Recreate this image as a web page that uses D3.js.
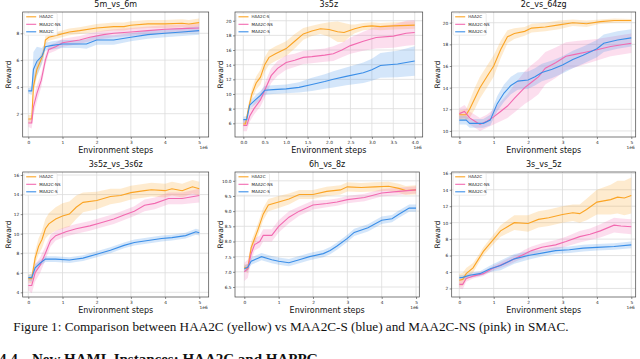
<!DOCTYPE html>
<html>
<head>
<meta charset="utf-8">
<script src="https://cdn.jsdelivr.net/npm/d3@7"></script>
<style>
  body { margin: 0; background: #fff; }
  svg { display: block; }
</style>
</head>
<body>
<svg id="fig" width="640" height="359"></svg>
<script>
// each point: [env steps (1e6), mean reward, half width of shaded band]
const m5v6Haa2c = [[0,1.6,0.3],[0.1,1.6,0.3],[0.15,4.0,0.6],[0.25,5.3,0.5],[0.4,6.2,0.4],[0.45,6.6,0.4],[0.5,7.5,0.3],[0.6,7.7,0.25],[0.9,7.9,0.25],[1.2,8.1,0.25],[1.5,8.2,0.25],[2.0,8.4,0.3],[2.5,8.5,0.3],[2.8,8.5,0.3],[3.0,8.6,0.3],[3.5,8.7,0.3],[4.0,8.7,0.3],[4.5,8.75,0.3],[4.7,8.7,0.3],[5.0,8.8,0.3]];
const m5v6Ns = [[0,1.3,0.3],[0.1,1.3,0.4],[0.15,2.5,0.6],[0.25,3.5,0.6],[0.38,4.5,0.5],[0.5,6.0,0.4],[0.6,6.8,0.3],[0.8,7.0,0.3],[1.0,7.3,0.3],[1.5,7.5,0.3],[1.8,7.7,0.3],[2.2,7.9,0.3],[2.5,8.0,0.3],[3.0,8.1,0.3],[3.5,8.2,0.3],[4.0,8.3,0.3],[4.5,8.35,0.3],[5.0,8.4,0.3]];
const m5v6S = [[0,3.7,0.2],[0.1,3.7,0.3],[0.15,5.3,1.3],[0.25,5.9,1.1],[0.4,6.3,0.6],[0.5,7.0,0.3],[0.7,7.1,0.3],[1.0,7.2,0.3],[1.5,7.2,0.3],[1.7,7.2,0.35],[2.0,7.5,0.35],[2.5,7.5,0.35],[3.0,7.7,0.3],[3.5,7.9,0.3],[4.0,8.0,0.3],[4.5,8.1,0.3],[5.0,8.2,0.3]];

const s3z5Haa2c = [[0,5.9,0.3],[0.05,5.9,0.3],[0.12,8,0.6],[0.2,10,0.8],[0.3,11.5,0.9],[0.4,12.3,1],[0.5,14,1],[0.6,15,1],[0.75,15.5,1],[1.0,16.2,1],[1.2,17.2,1],[1.4,18.2,0.8],[1.6,18.6,0.7],[1.8,18.9,0.7],[2.0,18.8,1.0],[2.2,18.5,1.4],[2.35,18.4,1.3],[2.5,18.7,0.8],[2.6,18.9,0.6],[2.8,19.2,0.5],[3.0,19.3,0.5],[3.2,19.2,0.5],[3.5,19.3,0.5],[4.0,19.4,0.5]];
const s3z5Ns = [[0,5.7,0.8],[0.08,5.7,0.8],[0.15,7,0.8],[0.25,8,0.8],[0.4,9.2,0.9],[0.5,10.5,1],[0.65,12.5,1],[0.8,13.5,1],[1.0,14.3,1],[1.2,14.6,0.9],[1.4,15.0,0.9],[1.6,15.1,0.9],[1.9,15.3,0.9],[2.1,15.5,1],[2.3,16.0,1],[2.5,16.6,1.1],[2.8,17.2,1.3],[3.1,17.7,1.5],[3.5,17.9,1.6],[3.8,18.3,1.7],[4.0,18.4,1.7]];
const s3z5S = [[0,6.5,0.4],[0.08,6.5,0.5],[0.15,8.5,0.5],[0.3,9.3,0.6],[0.4,9.8,0.6],[0.5,10.5,0.6],[0.7,10.6,0.6],[1.0,10.7,0.6],[1.3,10.9,0.7],[1.6,11.3,0.9],[1.9,11.7,1.0],[2.1,12.0,1.1],[2.4,12.4,1.2],[2.8,12.9,1.4],[3.0,13.3,1.5],[3.2,13.9,1.7],[3.6,14.1,1.8],[3.8,14.3,1.9],[4.0,14.5,2.0]];

const c2v64Haa2c = [[0,11.5,0.4],[0.2,11.5,0.5],[0.3,12,0.8],[0.45,13,1],[0.6,14,1],[0.8,15,1],[1.0,16,1],[1.2,17.5,0.8],[1.4,18.7,0.6],[1.6,19.0,0.5],[1.9,19.2,0.4],[2.1,19.5,0.4],[2.5,19.6,0.4],[2.9,19.8,0.4],[3.3,20.0,0.3],[3.7,19.9,0.3],[4.1,20.1,0.2],[4.5,20.2,0.2],[5.0,20.2,0.15]];
const c2v64Ns = [[0,11.6,0.5],[0.15,11.8,0.6],[0.3,11.2,0.6],[0.5,10.8,0.6],[0.6,10.6,0.6],[0.8,10.9,0.6],[1.0,11.3,0.7],[1.2,11.8,0.9],[1.4,12.3,1.1],[1.6,13.0,1.3],[1.9,14.0,1.5],[2.1,14.5,1.6],[2.3,15.0,1.6],[2.5,15.8,1.5],[2.8,16.3,1.4],[3.1,16.9,1.3],[3.4,17.1,1.2],[3.7,17.3,1.1],[4.0,17.5,1.0],[4.4,17.8,0.9],[5.0,18.1,0.9]];
const c2v64S = [[0,11.0,0.4],[0.2,11.0,0.4],[0.3,10.7,0.4],[0.7,10.7,0.4],[0.9,11.0,0.5],[1.1,12.5,0.7],[1.3,13.5,0.8],[1.5,14.2,0.8],[1.7,14.6,0.8],[2.0,14.7,0.8],[2.2,15.0,0.8],[2.4,15.4,0.8],[2.7,15.7,0.8],[3.0,16.1,0.8],[3.3,16.6,0.8],[3.6,17.0,0.8],[4.0,17.6,0.8],[4.2,18.1,0.8],[4.6,18.4,0.8],[5.0,18.6,0.8]];

const s3z5v6Haa2c = [[0,5.4,0.4],[0.1,5.4,0.5],[0.2,7.5,0.7],[0.3,8.7,0.8],[0.4,9.4,0.9],[0.5,10.5,1],[0.6,11.0,1.1],[0.8,11.5,1.2],[1.0,11.8,1.3],[1.2,12.0,1.3],[1.4,12.7,1.2],[1.6,13.2,1.0],[2.0,13.4,0.9],[2.4,13.8,0.8],[2.7,13.9,0.7],[3.0,14.2,0.7],[3.4,14.4,0.7],[3.6,14.5,0.7],[4.0,14.4,0.7],[4.2,14.6,0.7],[4.5,14.4,0.7],[4.8,14.8,0.7],[5.0,14.6,0.7]];
const s3z5v6Ns = [[0,4.7,0.5],[0.1,4.7,0.8],[0.2,6.0,0.9],[0.35,6.8,0.8],[0.5,8.0,0.7],[0.65,9.3,0.6],[0.8,9.8,0.5],[1.1,10.2,0.5],[1.4,10.5,0.5],[1.8,10.8,0.5],[2.1,11.1,0.5],[2.5,11.5,0.5],[2.8,11.9,0.5],[3.1,12.3,0.5],[3.4,12.9,0.6],[3.7,13.1,0.6],[4.1,13.6,0.6],[4.5,13.6,0.6],[5.0,13.9,0.7]];
const s3z5v6S = [[0,5.5,0.3],[0.1,5.5,0.4],[0.2,6.5,0.4],[0.35,7.0,0.3],[0.5,7.4,0.3],[0.8,7.4,0.3],[1.2,7.3,0.3],[1.6,7.5,0.3],[2.0,7.9,0.3],[2.4,8.3,0.3],[2.8,8.8,0.3],[3.1,9.1,0.3],[3.5,9.3,0.3],[3.9,9.5,0.3],[4.2,9.6,0.3],[4.6,9.8,0.3],[4.9,10.2,0.3],[5.0,10.1,0.3]];

const h6v8Haa2c = [[0,7.15,0.1],[0.1,7.1,0.15],[0.2,7.8,0.2],[0.3,8.1,0.2],[0.4,8.4,0.2],[0.55,8.9,0.2],[0.7,9.2,0.2],[1.0,9.3,0.2],[1.3,9.4,0.18],[1.6,9.55,0.15],[2.0,9.55,0.15],[2.4,9.65,0.15],[2.8,9.7,0.15],[3.0,9.8,0.15],[3.4,9.78,0.15],[3.8,9.8,0.15],[4.2,9.82,0.15],[4.5,9.75,0.15],[4.7,9.68,0.15],[5.0,9.7,0.15]];
const h6v8Ns = [[0,7.0,0.3],[0.1,7.1,0.3],[0.2,7.6,0.25],[0.3,7.9,0.2],[0.45,8.0,0.2],[0.55,8.2,0.2],[0.8,8.2,0.2],[1.0,8.5,0.2],[1.3,8.8,0.2],[1.6,9.0,0.15],[2.0,9.2,0.15],[2.4,9.25,0.12],[2.7,9.3,0.12],[3.0,9.38,0.12],[3.5,9.45,0.12],[4.0,9.6,0.12],[4.5,9.65,0.12],[5.0,9.7,0.12]];
const h6v8S = [[0,7.1,0.1],[0.1,7.15,0.12],[0.2,7.35,0.12],[0.4,7.45,0.12],[0.5,7.5,0.12],[0.8,7.4,0.12],[1.0,7.35,0.12],[1.3,7.3,0.12],[1.6,7.4,0.12],[1.9,7.5,0.12],[2.3,7.6,0.12],[2.5,7.7,0.12],[2.7,7.85,0.12],[3.0,8.1,0.12],[3.2,8.3,0.12],[3.6,8.45,0.12],[4.0,8.7,0.12],[4.3,8.75,0.12],[4.5,8.9,0.12],[4.8,9.1,0.12],[5.0,9.1,0.12]];

const s3v5Haa2c = [[0,3.0,0.8],[0.1,3.1,0.8],[0.2,3.8,0.7],[0.4,4.5,0.6],[0.55,5.5,0.5],[0.7,6.5,0.5],[1.0,8.0,0.6],[1.2,9.0,0.7],[1.4,9.5,0.8],[1.6,10.0,0.9],[2.0,9.9,1.0],[2.3,10.4,1.0],[2.6,10.6,1.0],[3.0,11.0,1.0],[3.3,11.2,1.0],[3.5,11.1,1.1],[3.7,11.6,1.3],[4.0,12.5,1.5],[4.4,12.8,1.8],[4.6,13.1,2.0],[4.8,13.0,2.1],[5.0,13.3,2.2]];
const s3v5Ns = [[0,2.5,0.5],[0.1,2.5,0.6],[0.2,3.2,0.4],[0.4,3.5,0.3],[0.7,3.8,0.3],[1.0,4.5,0.3],[1.4,5.2,0.4],[1.7,5.8,0.4],[1.9,6.2,0.5],[2.1,6.6,0.5],[2.4,7.0,0.5],[2.8,7.3,0.6],[3.1,7.7,0.6],[3.5,8.3,0.7],[3.8,8.6,0.7],[4.1,9.0,0.8],[4.5,9.7,0.9],[4.7,9.6,0.9],[5.0,9.5,0.9]];
const s3v5S = [[0,3.3,0.3],[0.1,3.35,0.3],[0.3,3.6,0.3],[0.6,3.8,0.3],[0.9,4.4,0.4],[1.2,4.8,0.6],[1.6,5.6,0.6],[2.0,6.0,0.5],[2.4,6.3,0.4],[2.8,6.6,0.4],[3.2,6.7,0.4],[3.6,6.9,0.4],[4.0,7.0,0.4],[4.5,7.1,0.4],[5.0,7.3,0.4]];

const titles = ['5m_vs_6m', '3s5z', '2c_vs_64zg', '3s5z_vs_3s6z', '6h_vs_8z', '3s_vs_5z'];
const legendNames = [
  ['HAA2C', 'MAA2C-NS', 'MAA2C'],
  ['HAA2C-S', 'MAA2C-NS', 'MAA2C-S'],
  ['HAA2C', 'MAA2C-NS', 'MAA2C-S'],
  ['HAA2C', 'MAA2C-NS', 'MAA2C-S'],
  ['HAA2C', 'MAA2C-NS', 'MAA2C-S'],
  ['HAA2C', 'MAA2C-NS', 'MAA2C-S']
];
const seriesData = [
  [m5v6Haa2c, m5v6Ns, m5v6S],
  [s3z5Haa2c, s3z5Ns, s3z5S],
  [c2v64Haa2c, c2v64Ns, c2v64S],
  [s3z5v6Haa2c, s3z5v6Ns, s3z5v6S],
  [h6v8Haa2c, h6v8Ns, h6v8S],
  [s3v5Haa2c, s3v5Ns, s3v5S]
];
const xTickVals = [
  [0, 1, 2, 3, 4, 5],
  [0, 0.5, 1, 1.5, 2, 2.5, 3, 3.5, 4],
  [0, 1, 2, 3, 4, 5],
  [0, 1, 2, 3, 4, 5],
  [0, 1, 2, 3, 4, 5],
  [0, 1, 2, 3, 4, 5]
];
const yTickVals = [
  [2, 4, 6, 8],
  [6, 8, 10, 12, 14, 16, 18, 20],
  [10, 12, 14, 16, 18, 20],
  [4, 6, 8, 10, 12, 14, 16],
  [6.5, 7, 7.5, 8, 8.5, 9, 9.5, 10],
  [2, 4, 6, 8, 10, 12, 14, 16]
];
const caption = 'Figure 1: Comparison between HAA2C (yellow) vs MAA2C-S (blue) and MAA2C-NS (pink) in SMAC.';

// layout of each subplot: axes box and axis ranges
const panels = [
  { box: [22.7, 12, 208.7, 137], xDom: [-0.164, 5.28], yDom: [0.26, 9.59], xFmt: 'd', yFmt: 'd' },
  { box: [235, 12, 422.7, 137], xDom: [-0.194, 4.186], yDom: [4.13, 21.19], xFmt: '.1f', yFmt: 'd' },
  { box: [451.7, 12, 635.7, 137], xDom: [-0.221, 5.128], yDom: [9.44, 20.99], xFmt: 'd', yFmt: 'd' },
  { box: [22.7, 172, 208.7, 297], xDom: [-0.164, 5.275], yDom: [3.52, 16.31], xFmt: 'd', yFmt: 'd' },
  { box: [235, 172, 419.3, 297], xDom: [-0.271, 5.095], yDom: [6.17, 10.29], xFmt: 'd', yFmt: '.1f' },
  { box: [451.7, 172, 635.7, 297], xDom: [-0.221, 5.128], yDom: [0.96, 16.16], xFmt: 'd', yFmt: 'd' }
];

const colors = ['#fba424', '#f269b0', '#3a8ee8'];
const font = 'DejaVu Sans, sans-serif';

const svg = d3.select('#fig');

panels.forEach(function (p, i) {
  const [x0, y0, x1, y1] = p.box;
  const x = d3.scaleLinear().domain(p.xDom).range([x0, x1]);
  const y = d3.scaleLinear().domain(p.yDom).range([y1, y0]);
  const g = svg.append('g');

  // grid
  g.selectAll('.gx').data(xTickVals[i]).enter().append('line')
    .attr('x1', d => x(d)).attr('x2', d => x(d))
    .attr('y1', y0).attr('y2', y1)
    .attr('stroke', '#dcdcdc').attr('stroke-width', 0.8);
  g.selectAll('.gy').data(yTickVals[i]).enter().append('line')
    .attr('x1', x0).attr('x2', x1)
    .attr('y1', d => y(d)).attr('y2', d => y(d))
    .attr('stroke', '#dcdcdc').attr('stroke-width', 0.8);

  // shaded bands then mean lines
  const area = d3.area()
    .x(d => x(d[0]))
    .y0(d => y(d[1] - d[2]))
    .y1(d => y(d[1] + d[2]));
  const line = d3.line()
    .x(d => x(d[0]))
    .y(d => y(d[1]));

  seriesData[i].forEach(function (s, k) {
    g.append('path').datum(s)
      .attr('d', area)
      .attr('fill', colors[k])
      .attr('fill-opacity', 0.22);
  });
  seriesData[i].forEach(function (s, k) {
    g.append('path').datum(s)
      .attr('d', line)
      .attr('fill', 'none')
      .attr('stroke', colors[k])
      .attr('stroke-width', 1.1);
  });

  // axes
  const xAxis = d3.axisBottom(x).tickValues(xTickVals[i])
    .tickFormat(d3.format(p.xFmt)).tickSize(2).tickPadding(1.5);
  const yAxis = d3.axisLeft(y).tickValues(yTickVals[i])
    .tickFormat(d3.format(p.yFmt)).tickSize(2).tickPadding(1.5);

  const ax = g.append('g').attr('transform', 'translate(0,' + y1 + ')').call(xAxis);
  const ay = g.append('g').attr('transform', 'translate(' + x0 + ',0)').call(yAxis);
  [ax, ay].forEach(function (a) {
    a.select('.domain').remove();
    a.selectAll('line').attr('stroke', '#444').attr('stroke-width', 0.6);
    a.selectAll('text').attr('font-family', font).attr('font-size', 4.3).attr('fill', '#222');
  });

  // frame
  g.append('rect')
    .attr('x', x0).attr('y', y0)
    .attr('width', x1 - x0).attr('height', y1 - y0)
    .attr('fill', 'none').attr('stroke', '#444').attr('stroke-width', 0.7);

  // labels
  g.append('text')
    .attr('x', (x0 + x1) / 2).attr('y', y0 - 5)
    .attr('text-anchor', 'middle')
    .attr('font-family', font).attr('font-size', 8).attr('fill', '#111')
    .text(titles[i]);
  g.append('text')
    .attr('x', (x0 + x1) / 2).attr('y', y1 + 16)
    .attr('text-anchor', 'middle')
    .attr('font-family', font).attr('font-size', 8).attr('fill', '#111')
    .text('Environment steps');
  g.append('text')
    .attr('transform', 'translate(' + (x0 - 12) + ',' + ((y0 + y1) / 2) + ') rotate(-90)')
    .attr('text-anchor', 'middle')
    .attr('font-family', font).attr('font-size', 7.5).attr('fill', '#111')
    .text('Reward');
  g.append('text')
    .attr('x', x1 - 1).attr('y', y1 + 11.5)
    .attr('text-anchor', 'end')
    .attr('font-family', font).attr('font-size', 4.3).attr('fill', '#222')
    .text('1e6');

  // legend
  const lg = g.append('g').attr('transform', 'translate(' + (x0 + 1.5) + ',' + (y0 + 1.2) + ')');
  lg.append('rect')
    .attr('width', 33).attr('height', 22).attr('rx', 1.2)
    .attr('fill', '#fff').attr('fill-opacity', 0.85)
    .attr('stroke', '#d8d8d8').attr('stroke-width', 0.5);
  legendNames[i].forEach(function (name, k) {
    const ly = 3.6 + k * 7.5;
    lg.append('line')
      .attr('x1', 2).attr('x2', 12).attr('y1', ly).attr('y2', ly)
      .attr('stroke', colors[k]).attr('stroke-width', 1.1);
    lg.append('text')
      .attr('x', 15).attr('y', ly + 1.4)
      .attr('font-family', font).attr('font-size', 4).attr('fill', '#222')
      .text(name);
  });
});

// caption and cut-off section heading below the figure
svg.append('text')
  .attr('x', 291).attr('y', 331)
  .attr('text-anchor', 'middle')
  .attr('font-family', 'Liberation Serif, serif').attr('font-size', 13.2).attr('fill', '#111')
  .text(caption);
svg.append('text')
  .attr('x', -1).attr('y', 364)
  .attr('font-family', 'Liberation Serif, serif').attr('font-size', 15).attr('font-weight', 'bold').attr('fill', '#111')
  .text('4.4');
svg.append('text')
  .attr('x', 32).attr('y', 364)
  .attr('font-family', 'Liberation Serif, serif').attr('font-size', 15).attr('font-weight', 'bold').attr('fill', '#111')
  .text('New HAML Instances: HAA2C and HAPPG');
</script>
</body>
</html>
